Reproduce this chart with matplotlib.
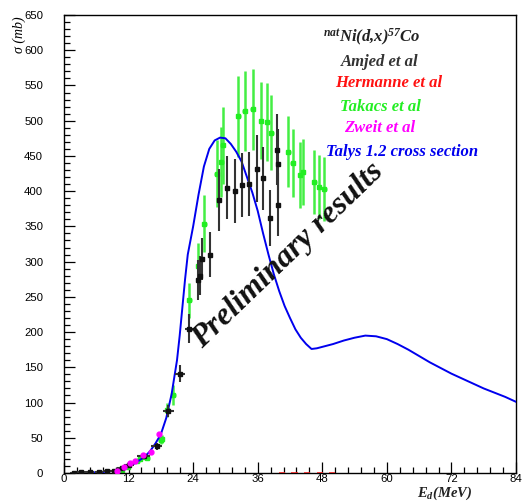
import numpy as np
import matplotlib
matplotlib.use("Agg")
import matplotlib.pyplot as plt
from matplotlib.ticker import MultipleLocator
from matplotlib import font_manager

plt.rcParams['mathtext.fontset'] = 'custom'
plt.rcParams['mathtext.it'] = 'Liberation Serif:italic:bold'
plt.rcParams['mathtext.rm'] = 'Liberation Serif:italic:bold'
plt.rcParams['mathtext.bf'] = 'Liberation Serif:italic:bold'

_names = {f.name for f in font_manager.fontManager.ttflist}
tick_family = 'Liberation Sans Narrow' if 'Liberation Sans Narrow' in _names else 'Liberation Sans'

# ---- data ----
talys_E = [2, 4, 6, 8, 10, 11, 12, 13, 14, 15, 16, 17, 18, 19, 20, 21, 21.5, 22, 22.5, 23, 24, 25, 26, 27, 28, 29, 30,
           31, 32, 33, 34, 35, 36, 37, 38, 39, 40, 41, 42, 43, 44, 45, 46, 47, 48, 50, 52, 54, 56, 58, 60, 62, 64,
           66, 68, 70, 72, 74, 76, 78, 80, 82, 84]
talys_sig = [0, 0.5, 1, 2, 4, 6, 9, 13, 18, 23, 31, 42, 55, 78, 112, 160, 195, 235, 275, 310, 350, 395, 435, 460, 472,
             476, 475, 467, 456, 442, 420, 398, 372, 340, 310, 282, 258, 237, 220, 204, 192, 183, 176, 177, 179, 183,
             188, 192, 195, 194, 190, 183, 175, 166, 157, 149, 141, 134, 127, 120, 114, 108, 101]

amjed_E = [1.9, 3.2, 4.8, 6.5, 8.0, 9.3, 10.7, 12.1, 14.8, 17.2, 19.4, 21.5, 23.3, 24.95, 25.3, 25.7, 27.2, 28.8,
           30.3, 31.8, 33.1, 34.4, 35.8, 37.0, 38.3, 39.5, 39.7, 39.8]
amjed_sig = [0.5, 1, 1.5, 2, 2.5, 3, 7, 12, 24, 38, 88, 141, 205, 274, 280, 304, 310, 388, 405, 400, 409, 410, 432,
             418, 362, 459, 438, 381]
amjed_dsig = [0.5, 0.5, 0.5, 0.5, 1, 1, 2, 3, 4, 5, 8, 12, 20, 28, 28, 30, 32, 44, 45, 45, 45, 45, 48, 45, 40, 50,
              50, 45]
amjed_dE = [0.8, 0.8, 0.8, 0.8, 0.8, 0.8, 0.9, 1.0, 1.2, 1.0, 1.0, 0.9, 0.8, 0.4, 0.4, 0.4, 0.5, 0.3, 0.3, 0.3,
            0.3, 0.3, 0.3, 0.3, 0.3, 0.3, 0.3, 0.3]

takacs_E = [9.8, 10.7, 11.9, 13.6, 14.1, 15.1, 15.5, 18.0, 18.2, 19.2, 20.3, 23.3, 24.95, 26.1, 28.4, 29.2, 29.5,
            32.4, 33.6, 35.1, 36.6, 37.8, 38.5, 41.7, 42.5, 43.9, 44.4, 46.5, 47.4, 48.4]
takacs_sig = [2, 4, 8, 17, 20, 23, 21, 47, 48, 90, 111, 245, 294, 354, 425, 441, 465, 506, 514, 516, 500, 498, 483,
              456, 440, 423, 427, 413, 406, 403]
takacs_dsig = [1, 1, 2, 3, 3, 3, 3, 6, 6, 10, 14, 25, 33, 40, 47, 50, 55, 57, 57, 57, 55, 55, 53, 50, 48, 47, 47,
               46, 45, 45]

zweit_E = [9.8, 11.1, 12.3, 13.2, 14.6, 16.1, 17.7]
zweit_sig = [3, 8, 14, 17, 25, 30, 55]

hermanne_E = [40.5, 42.8, 45.2, 47.6, 49.8]
hermanne_sig = [0.5, 0.5, 0.5, 0.5, 0.5]

# ---- figure ----
W, H = 526, 503
fig = plt.figure(figsize=(W / 100, H / 100), dpi=100)
ax = fig.add_axes([64 / W, (H - 473) / H, (516 - 64) / W, (473 - 15) / H])

ax.plot(talys_E, talys_sig, color='#0000ee', lw=1.4, zorder=3)
ax.errorbar(takacs_E, takacs_sig, yerr=takacs_dsig, xerr=0.45, fmt='s', ms=2.5, color='#22ee22',
            ecolor='#44ee44', elinewidth=1.8, capsize=0, zorder=2)
ax.errorbar(amjed_E, amjed_sig, yerr=amjed_dsig, xerr=amjed_dE, fmt='s', ms=2.5, color='#111111',
            ecolor='#333333', elinewidth=1.5, capsize=0, zorder=4)
ax.errorbar(zweit_E, zweit_sig, yerr=2, fmt='o', ms=3.5, color='#ff00ff', ecolor='#ff00ff',
            elinewidth=1.0, capsize=0, zorder=5)
ax.errorbar(hermanne_E, hermanne_sig, xerr=0.6, fmt='none', ecolor='#ee2222', elinewidth=1.2, capsize=0,
            zorder=5)

ax.set_xlim(0, 84)
ax.set_ylim(0, 650)
ax.xaxis.set_major_locator(MultipleLocator(12))
ax.xaxis.set_minor_locator(MultipleLocator(2.4))
ax.yaxis.set_major_locator(MultipleLocator(50))
ax.yaxis.set_minor_locator(MultipleLocator(10))
ax.tick_params(which='both', direction='in', top=False, right=False, labelsize=8.2, width=0.9,
               labelfontfamily=tick_family)
ax.tick_params(which='major', length=8)
ax.tick_params(which='minor', length=4)
ax.tick_params(axis='y', pad=15)
ax.tick_params(axis='x', pad=1)
for s in ax.spines.values():
    s.set_linewidth(1.0)

def fx(px):
    return px / W

def fy(py):
    return 1 - py / H

tfont = dict(family='Liberation Serif', style='italic', weight='bold', fontsize=12, ha='center', va='center')
fig.text(fx(372), fy(37), r'$^{nat}$Ni(d,x)$^{57}$Co', color='#222222', **tfont)
fig.text(fx(380), fy(62), 'Amjed et al', color='#333333', **tfont)
fig.text(fx(389), fy(83), 'Hermanne et al', color='#ff1111', **tfont)
fig.text(fx(380), fy(107), 'Takacs et al', color='#22ee22', **tfont)
fig.text(fx(380), fy(128), 'Zweit et al', color='#ff00ff', **tfont)
fig.text(fx(402), fy(152), 'Talys 1.2 cross section', color='#0000ee', **tfont)

fig.text(fx(288), fy(256), 'Preliminary results', family='Liberation Serif', style='italic', weight='bold',
         fontsize=23, color='#111111', rotation=44, rotation_mode='anchor', ha='center', va='center')

fig.text(fx(19), fy(35), r'σ (mb)', family='Liberation Serif', style='italic', fontsize=10,
         rotation=90, ha='center', va='center')
fig.text(fx(445), fy(497), r'$E_{d}$(MeV)', family='Liberation Serif', style='italic', weight='bold',
         fontsize=10.5, ha='center', va='baseline', color='#222222')

fig.savefig('out.png', dpi=100)
